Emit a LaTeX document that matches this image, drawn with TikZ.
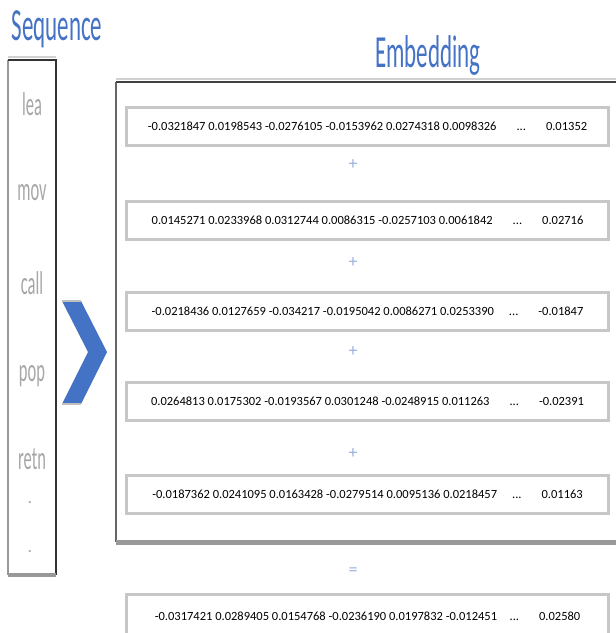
\documentclass[tikz,border=0pt]{standalone}
\usepackage{fontspec}
\setmainfont{Carlito}
\usepackage{tikz}
\usetikzlibrary{positioning}
\usepackage{xcolor}
\definecolor{embblue}{HTML}{4472C4}
\newcommand{\squeeze}[1]{\scalebox{0.5}[1]{#1}}

\begin{document}
\begin{tikzpicture}[x=1pt,y=-1pt,
  title/.style={text=embblue,font=\fontsize{46}{46}\selectfont,inner sep=0pt},
  word/.style={text=black!35,font=\fontsize{33}{33}\selectfont,inner sep=0pt,anchor=mid},
  vecbox/.style={draw=black!22,line width=3pt,fill=white,minimum width=482pt,minimum height=38pt,inner sep=0pt,font=\fontsize{12.5}{12.5}\selectfont},
  op/.style={text=embblue!55,font=\fontsize{18}{18}\selectfont,inner sep=0pt}]
\useasboundingbox (0,0) rectangle (616,633);
% sequence column
\node[title] (seqTitle) at (57,29) {\squeeze{Sequence}};
\node[minimum width=48pt,minimum height=515pt,inner sep=0pt] (seq) at (32,317.5) {};
\draw[black!18,line width=2pt] ([yshift=3pt]seq.north west) -- ([yshift=3pt]seq.north east);
\draw[black!40,line width=2.5pt] (seq.north west) -- (seq.south west);
\draw[black!80,line width=1.8pt] (seq.north west) -- (seq.north east) -- (seq.south east);
\draw[black!40,line width=4pt] (seq.south west) -- (seq.south east);
\node[word] (wLea) at (32,113) {\squeeze{lea}};
\node[word] (wMov) at (32,198) {\squeeze{mov}};
\node[word] (wCall) at (32,292) {\squeeze{call}};
\node[word] (wPop) at (32,379) {\squeeze{pop}};
\node[word] (wRetn) at (32,467) {\squeeze{retn}};
\node[word,font=\fontsize{18}{18}\selectfont,anchor=base] (wDotA) at (30,503) {.};
\node[word,font=\fontsize{18}{18}\selectfont,anchor=base] (wDotB) at (30,552) {.};
% chevron
\fill[embblue] (62,301) -- (81,301) -- (107,352) -- (81,404) -- (62,404) -- (88,352) -- cycle;
\draw[black!25,line width=1.5pt] (62,301) -- (81,301) (62,404) -- (81,404);
% embedding block
\node[title] (embTitle) at (428,55) {\squeeze{Embedding}};
\node[minimum width=508pt,minimum height=460pt,inner sep=0pt] (emb) at (370,312) {};
\draw[black!18,line width=2pt] ([yshift=3pt]emb.north west) -- ([yshift=3pt]emb.north east);
\draw[black!60,line width=1.5pt] (emb.north west) -- (emb.south west);
\draw[black!75,line width=2pt] (emb.north west) -- (emb.north east);
\draw[black!40,line width=5pt] (emb.south west) -- (emb.south east);
\node[vecbox] (v1) at (367.5,126) {-0.0321847 0.0198543 -0.0276105 -0.0153962 0.0274318 0.0098326\hspace{1.6em}...\hspace{1.6em}0.01352};
\node[op] (p1) at (353,165) {+};
\node[vecbox] (v2) at (367.5,220) {0.0145271 0.0233968 0.0312744 0.0086315 -0.0257103 0.0061842\hspace{1.6em}...\hspace{1.6em}0.02716};
\node[op] (p2) at (353,263) {+};
\node[vecbox] (v3) at (367.5,311) {-0.0218436 0.0127659 -0.034217 -0.0195042 0.0086271 0.0253390\hspace{1.2em}...\hspace{1.6em}-0.01847};
\node[op] (p3) at (353,352) {+};
\node[vecbox] (v4) at (367.5,401) {0.0264813 0.0175302 -0.0193567 0.0301248 -0.0248915 0.011263\hspace{1.6em}...\hspace{1.6em}-0.02391};
\node[op] (p4) at (353,454) {+};
\node[vecbox] (v5) at (367.5,494) {-0.0187362 0.0241095 0.0163428 -0.0279514 0.0095136 0.0218457\hspace{1.2em}...\hspace{1.6em}0.01163};
% result
\node[op] (eq) at (353,572) {=};
\node[vecbox,minimum height=44pt] (vSum) at (367.5,616) {-0.0317421 0.0289405 0.0154768 -0.0236190 0.0197832 -0.012451\hspace{1em}...\hspace{1.6em}0.02580};
\end{tikzpicture}
\end{document}
